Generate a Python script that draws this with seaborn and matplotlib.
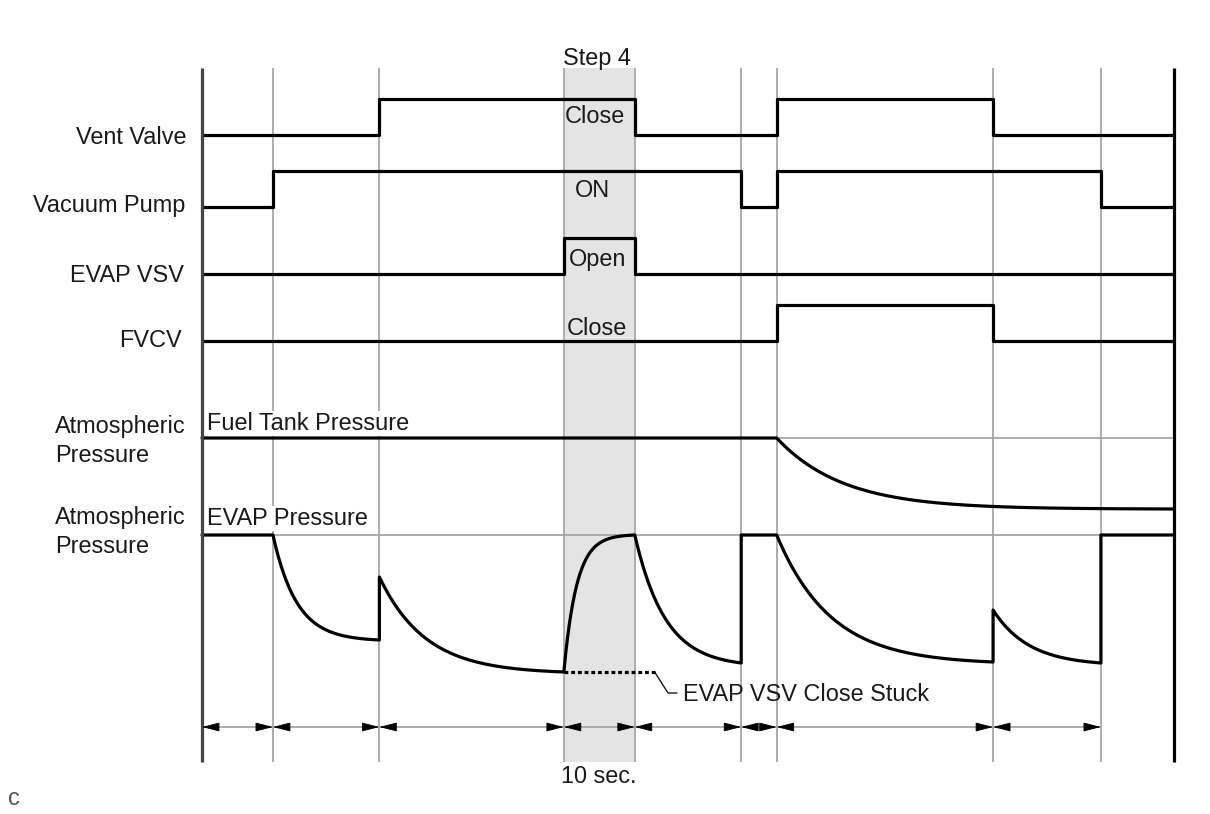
import numpy as np
import pandas as pd
import matplotlib.pyplot as plt
import seaborn as sns

# switching instants (s); interval t_edges[i]..t_edges[i+1]
t_edges = [0, 10, 25, 51, 61, 76, 81, 111.5, 126.7, 137]
step4 = (51, 61)

# on/off state for each interval
signals = ["Vent Valve", "Vacuum Pump", "EVAP VSV", "FVCV"]
vent_valve = [0, 0, 1, 1, 0, 0, 1, 0, 0]
vacuum_pump = [0, 1, 1, 1, 1, 0, 1, 1, 0]
evap_vsv = [0, 0, 0, 1, 0, 0, 0, 0, 0]
fvcv = [0, 0, 0, 0, 0, 0, 1, 0, 0]
state_text = ["Close", "ON", "Open", "Close"]

# EVAP pressure relative to atmospheric, start / end of each interval, and curve sharpness
evap_start = [0, 0, -0.42, -1.37, 0, 0, 0, -0.75, 0]
evap_end = [0, -1.05, -1.37, 0, -1.28, 0, -1.27, -1.28, 0]
evap_rate = [0, 4.5, 4, 5.5, 3.5, 0, 4, 3, 0]

# fuel tank pressure
tank_edges = [0, 81, 137]
tank_start = [0, 0]
tank_end = [0, -0.71]
tank_rate = [0, 6]

# "close stuck" case: pressure stays at the low level
stuck_t = [51, 63.8]
stuck_p = -1.37

# ---- layout (pixels) ----
W, H = 1210, 814
x0, x1 = 202, 1174
pps = (x1 - x0) / (t_edges[-1] - t_edges[0])
row_base = [135, 207, 274, 341]
row_amp = 36
tank_y = 438
evap_y = 535
p_scale = 100
top, bottom = 68, 762
arrow_y = 727
fs = 16.9
ink = "#1a1a1a"


def curve(ta, tb, pa, pb, k, n=80):
    u = np.linspace(0, 1, n)
    f = u if k == 0 else (1 - np.exp(-k * u)) / (1 - np.exp(-k))
    return ta + (tb - ta) * u, pa + (pb - pa) * f


def pressure_trace(edges, p0, p1, rate):
    xs, ps = [], []
    for i in range(len(p0)):
        x, p = curve(edges[i], edges[i + 1], p0[i], p1[i], rate[i])
        xs.append(x)
        ps.append(p)
    return np.concatenate(xs), np.concatenate(ps)


sns.set_theme(style="white")
plt.rcParams["font.family"] = ["Liberation Sans", "DejaVu Sans"]

fig = plt.figure(figsize=(W / 100, H / 100), dpi=100)
ax = fig.add_axes([0, 0, 1, 1])
ax.set_xlim(-x0 / pps, (W - x0) / pps)
ax.set_ylim(H, 0)
ax.axis("off")


def px(x):
    return (x - x0) / pps


def label(x, y, s, **kw):
    kw.setdefault("color", ink)
    kw.setdefault("fontsize", fs)
    kw.setdefault("va", "baseline")
    ax.text(px(x), y, s, zorder=6, **kw)


# step 4 band and grid
ax.fill_between(step4, top, bottom, color="#e4e4e4", lw=0, zorder=0)
ax.vlines(t_edges[1:-1], top, bottom, color="#adadad", lw=1.4, zorder=1)
ax.vlines(t_edges[0], top, bottom, color="#444444", lw=2.3, zorder=4)
ax.vlines(t_edges[-1], top, bottom, color="black", lw=2.3, zorder=4)
ax.hlines([tank_y, evap_y], t_edges[0], t_edges[-1], color="#a0a0a0", lw=1.2, zorder=1)

# digital signals
for states, base in zip([vent_valve, vacuum_pump, evap_vsv, fvcv], row_base):
    y = [base - s * row_amp for s in states + states[-1:]]
    sns.lineplot(x=t_edges, y=y, ax=ax, color="black", lw=2.3, sort=False,
                 estimator=None, drawstyle="steps-post", zorder=3)

# pressures
tx, tp = pressure_trace(tank_edges, tank_start, tank_end, tank_rate)
sns.lineplot(x=tx, y=tank_y - tp * p_scale, ax=ax, color="black", lw=2.3,
             sort=False, estimator=None, zorder=3)
ex, ep = pressure_trace(t_edges, evap_start, evap_end, evap_rate)
sns.lineplot(x=ex, y=evap_y - ep * p_scale, ax=ax, color="black", lw=2.3,
             sort=False, estimator=None, zorder=3)

stuck_y = evap_y - stuck_p * p_scale
ax.plot(stuck_t, [stuck_y] * 2, color="black", lw=2.3, ls=(0, (1.2, 0.9)), zorder=3)
ax.plot([stuck_t[1], px(668), px(677)], [stuck_y, 693, 693], color="black", lw=0.9, zorder=3)

# interval arrows
ax.hlines(arrow_y, t_edges[0], t_edges[-2], color="#a0a0a0", lw=1.2, zorder=2)
hl = 15 / pps
for a, b in zip(t_edges[:-2], t_edges[1:-1]):
    for tip, tail in [(a, a + hl), (b, b - hl)]:
        ax.annotate("", xy=(tip, arrow_y), xytext=(tail, arrow_y), zorder=5,
                    arrowprops=dict(arrowstyle="-|>,head_length=1.1,head_width=0.28",
                                    color="black", lw=0.6, shrinkA=0, shrinkB=0,
                                    mutation_scale=10))

# texts
for name, x, y in zip(signals, [187, 185, 184, 182], [144, 212, 282, 347]):
    label(x, y, name, ha="right")
for y in [433, 524]:
    label(55, y, "Atmospheric")
    label(55, y + 29, "Pressure")
box = dict(facecolor="white", edgecolor="none", pad=1)
label(207, 430, "Fuel Tank Pressure", bbox=box)
label(207, 525, "EVAP Pressure", bbox=box)
for s, x, y in zip(state_text, [595, 592, 598, 597], [123, 197, 266, 335]):
    label(x, y, s, ha="center")
label(597, 65, "Step 4", ha="center")
label(599, 783, "10 sec.", ha="center")
label(683, 701, "EVAP VSV Close Stuck")
label(8, 805, "c", color="#555555")

fig.savefig("out.png", dpi=100)
